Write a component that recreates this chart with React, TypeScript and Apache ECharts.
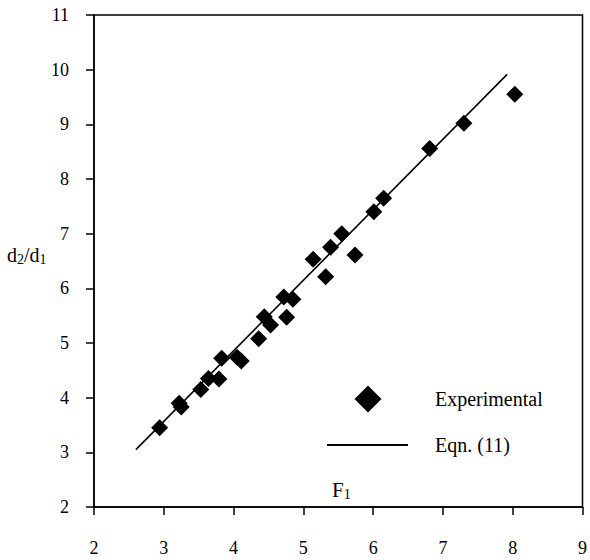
import React, { useEffect, useRef } from "react";
import * as echarts from "echarts";

// Measured diameter ratio d2/d1 against F1
const expF1 = [
  2.94, 3.22, 3.25, 3.53, 3.64, 3.79, 3.83, 4.05, 4.11, 4.36, 4.44, 4.53,
  4.76, 4.72, 4.85, 5.32, 5.14, 5.39, 5.55, 5.74, 6.01, 6.15, 6.81, 7.3, 8.03,
];
const expRatio = [
  3.45, 3.9, 3.83, 4.15, 4.35, 4.34, 4.72, 4.74, 4.67, 5.08, 5.48, 5.33,
  5.47, 5.84, 5.8, 6.21, 6.53, 6.75, 7.0, 6.61, 7.4, 7.65, 8.56, 9.02, 9.55,
];

// Correlation line, Eqn. (11)
const eqnF1 = [2.6, 7.92];
const eqnRatio = [3.05, 9.915];

const xTicks = { min: 2, max: 9, interval: 1 };
const yTicks = { min: 2, max: 11, interval: 1 };

const FONT = "'Liberation Serif', 'Times New Roman', serif";

export default function App() {
  const ref = useRef<HTMLDivElement>(null);

  useEffect(() => {
    if (!ref.current) return;
    const chart = echarts.init(ref.current, null, { renderer: "svg" });

    const expData = expF1.map((x, i) => [x, expRatio[i]]);
    const eqnData = eqnF1.map((x, i) => [x, eqnRatio[i]]);

    const axisCommon = {
      axisLine: { show: true, lineStyle: { color: "#000", width: 1.5 } },
      axisTick: { show: true, inside: false, length: 8, lineStyle: { color: "#000", width: 1.5 } },
      splitLine: { show: false },
    };

    chart.setOption({
      animation: false,
      backgroundColor: "#fff",
      grid: {
        left: 94,
        right: 5,
        top: 15,
        bottom: 53,
        show: true,
        borderColor: "#000",
        borderWidth: 1.5,
        backgroundColor: "transparent",
      },
      xAxis: {
        type: "value",
        ...xTicks,
        ...axisCommon,
        axisLabel: { color: "#000", fontFamily: FONT, fontSize: 18, margin: 32 },
      },
      yAxis: {
        type: "value",
        ...yTicks,
        ...axisCommon,
        axisLabel: { color: "#000", fontFamily: FONT, fontSize: 18, margin: 25 },
      },
      series: [
        {
          name: "Eqn. (11)",
          type: "line",
          data: eqnData,
          showSymbol: false,
          symbol: "none",
          lineStyle: { color: "#000", width: 1.6 },
          z: 2,
        },
        {
          name: "Experimental",
          type: "scatter",
          data: expData,
          symbol: "diamond",
          symbolSize: 17,
          itemStyle: { color: "#000", opacity: 1 },
          z: 3,
        },
      ],
      graphic: [
        {
          type: "text",
          left: 7,
          top: 245,
          style: {
            text: "{a|d}{s|2}{a|/d}{s|1}",
            fill: "#000",
            rich: {
              a: { fontFamily: FONT, fontSize: 20, fill: "#000" },
              s: { fontFamily: FONT, fontSize: 14, fill: "#000", padding: [9, 0, 0, 0] },
            },
          },
        },
        {
          type: "text",
          left: 332,
          top: 479,
          style: {
            text: "{a|F}{s|1}",
            fill: "#000",
            rich: {
              a: { fontFamily: FONT, fontSize: 21, fill: "#000" },
              s: { fontFamily: FONT, fontSize: 14, fill: "#000", padding: [9, 0, 0, 0] },
            },
          },
        },
        {
          type: "polygon",
          shape: {
            points: [
              [368, 385.5],
              [381.5, 399],
              [368, 412.5],
              [354.5, 399],
            ],
          },
          style: { fill: "#000" },
        },
        {
          type: "text",
          x: 435,
          y: 399,
          style: {
            text: "Experimental",
            fontFamily: FONT,
            fontSize: 20,
            fill: "#000",
            verticalAlign: "middle",
          },
        },
        {
          type: "line",
          shape: { x1: 327, y1: 445, x2: 408, y2: 445 },
          style: { stroke: "#000", lineWidth: 2 },
        },
        {
          type: "text",
          x: 435,
          y: 445,
          style: {
            text: "Eqn. (11)",
            fontFamily: FONT,
            fontSize: 20,
            fill: "#000",
            verticalAlign: "middle",
          },
        },
      ],
    });

    return () => chart.dispose();
  }, []);

  return (
    <div
      ref={ref}
      style={{ position: "absolute", left: 0, top: 0, width: 590, height: 560 }}
    />
  );
}
